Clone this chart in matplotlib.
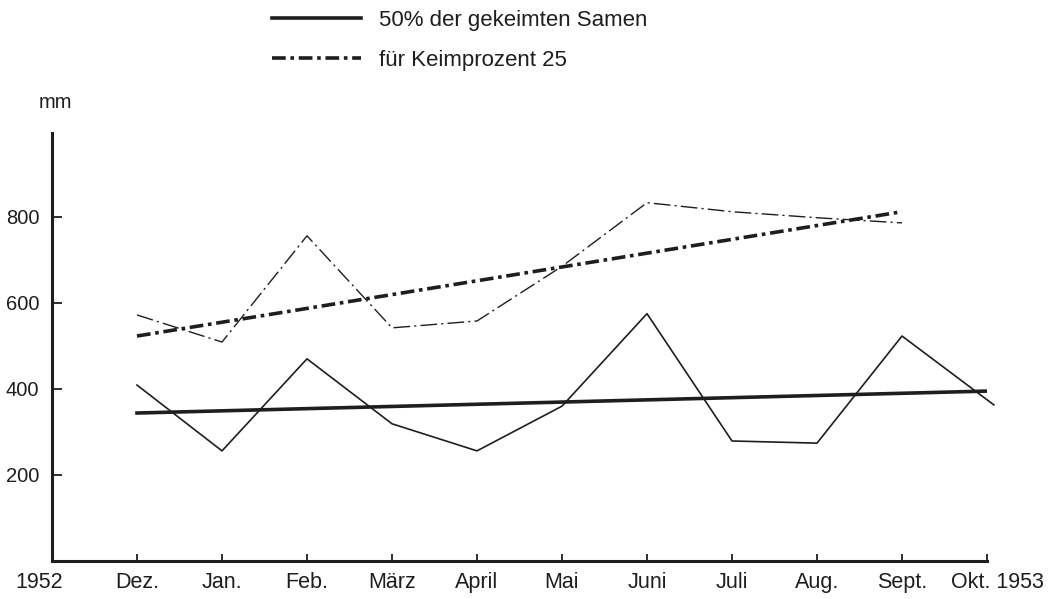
import matplotlib
matplotlib.use("Agg")
import matplotlib.pyplot as plt
import matplotlib.transforms as mtransforms

plt.rcParams['font.family'] = ['Liberation Sans', 'DejaVu Sans']

# x categories (tick positions 0..11)
months = ["1952", "Dez.", "Jan.", "Feb.", "März", "April", "Mai",
          "Juni", "Juli", "Aug.", "Sept.", "Okt. 1953"]

# 50% der gekeimten Samen (Dez. .. Okt.)
x_samen = [1, 2, 3, 4, 5, 6, 7, 8, 9, 10, 11.08]
samen50 = [409, 256, 470, 319, 256, 360, 575, 279, 274, 523, 363]
x_samen_trend = [1, 11]
samen50_trend = [344, 395]

# fuer Keimprozent 25 (Dez. .. Sept.)
x_keim = [1, 2, 3, 4, 5, 6, 7, 8, 9, 10]
keim25 = [572, 509, 756, 542, 558, 685, 833, 812, 798, 786]
x_keim_trend = [1, 10]
keim25_trend = [523, 812]

yticks = [200, 400, 600, 800]

ink = "#1e1e1e"

fig = plt.figure(figsize=(10.61, 5.99), dpi=100)
ax = fig.add_axes([52/1061, 1-561/599, (987-52)/1061, (561-133)/599])

# thin data lines
ax.plot(x_samen, samen50, color=ink, lw=1.2, clip_on=False)
ax.plot(x_keim, keim25, color=ink, lw=1.0, dashes=(12, 3, 1.5, 3))

# thick trend lines
ax.plot(x_samen_trend, samen50_trend, color=ink, lw=2.6, label="50% der gekeimten Samen")
ax.plot(x_keim_trend, keim25_trend, color=ink, lw=2.6, dashes=(3.8, 1.3, 1.0, 1.3),
        label="für Keimprozent 25")

ax.set_xlim(0, 11)
ax.set_ylim(0, 995)
for s in ["top", "right"]:
    ax.spines[s].set_visible(False)
for s in ["left", "bottom"]:
    ax.spines[s].set_linewidth(2.2)
    ax.spines[s].set_color(ink)

ax.set_xticks(range(len(months)))
ax.set_xticklabels(months, fontsize=15.5, color=ink)
ax.set_yticks(yticks)
ax.set_yticklabels([str(v) for v in yticks], fontsize=14.5, color=ink)
ax.tick_params(axis='x', direction='in', length=5, width=1.3, pad=8, colors=ink)
ax.tick_params(axis='y', direction='in', length=7, width=1.3, pad=9, colors=ink)

# nudge the end labels like in the original
lbls = ax.get_xticklabels()
lbls[0].set_transform(lbls[0].get_transform() +
                      mtransforms.ScaledTranslation(-0.13, 0, fig.dpi_scale_trans))
lbls[-1].set_transform(lbls[-1].get_transform() +
                       mtransforms.ScaledTranslation(0.10, 0, fig.dpi_scale_trans))

fig.text(55/1061, 1-103/599, "mm", fontsize=14.5, color=ink, ha='center', va='center')

leg = fig.legend(loc='upper left', bbox_to_anchor=(272/1061, 1-10/599), frameon=False,
                 fontsize=16, handlelength=4.0, handletextpad=0.8, labelspacing=0.85,
                 borderpad=0, borderaxespad=0)
for t in leg.get_texts():
    t.set_color(ink)

fig.savefig("out.png", dpi=100, facecolor="white")
